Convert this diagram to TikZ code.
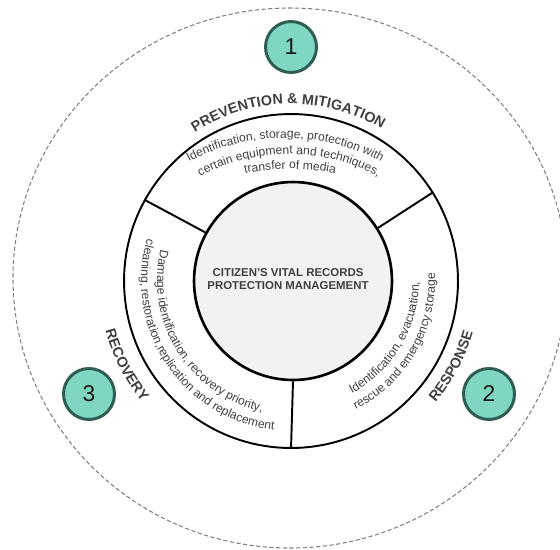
\documentclass[tikz,border=0pt]{standalone}
\usepackage{fontspec}
\setmainfont{Liberation Sans}
\usepackage{xcolor}
\usetikzlibrary{decorations.text}

\definecolor{mintfill}{HTML}{7FD6C2}
\definecolor{mintedge}{HTML}{2E5E53}
\definecolor{inkgray}{HTML}{404040}
\definecolor{coregray}{HTML}{F2F2F2}
\definecolor{dashgray}{HTML}{808080}

\newcommand{\phasefont}{\fontsize{8.2}{9}\selectfont\bfseries\color{inkgray}}
\newcommand{\notefont}{\fontsize{6.9}{8}\selectfont\color{inkgray}}

\begin{document}
\begin{tikzpicture}[x=0.02cm, y=0.02cm,
        ringshape/.style={circle, draw=black, line width=1.1pt, minimum size=6.68cm, inner sep=0pt},
        coreshape/.style={circle, draw=black, fill=coregray, line width=1.5pt, minimum size=3.96cm, inner sep=0pt},
        hubtext/.style={align=center, font=\fontsize{6.5}{7.4}\selectfont\bfseries, text=inkgray},
        badge/.style={circle, draw=mintedge, fill=mintfill, line width=1.7pt, minimum size=1.02cm, inner sep=0pt,
            font=\fontsize{13}{14}\selectfont, text=black!90},
        divider/.style={line width=1.1pt},
        phaselabel/.style={decorate, decoration={text along path, text align=center, text={|\phasefont|#1}}},
        notelabel/.style={decorate, decoration={text along path, text align=center, text={|\notefont|#1}}}]
        \useasboundingbox (0,0) rectangle (560,-549);
        \clip (0,0) rectangle (560,-549);

        \draw[dashgray, line width=0.6pt, dash pattern=on 2.4pt off 1.4pt] (290,-278) ellipse [x radius=277, y radius=270];

        \node[ringshape] (ring) at (291,-281) {};
        \node[coreshape] (core) at (293,-281) {};
        \node[hubtext] (hub) at (288,-279) {CITIZEN’S VITAL RECORDS\\PROTECTION MANAGEMENT};

        \draw[divider] (core.32) -- (ring.32);
        \draw[divider] (core.151) -- (ring.151);
        \draw[divider] (core.270) -- (ring.270);

        % phase titles
        \path[phaselabel={PREVENTION {\&} MITIGATION}] (ring.center) ++(151:177) arc[start angle=151, end angle=31, radius=177];
        \path[phaselabel={RESPONSE}] (ring.center) ++(-48:189) arc[start angle=-48, end angle=-8, radius=189];
        \path[phaselabel={RECOVERY}] (ring.center) ++(187:192) arc[start angle=187, end angle=227, radius=192];

        % phase notes
        \path[notelabel={Identification, storage, protection with}] (285,-344) ++(150:206) arc[start angle=150, end angle=30, radius=206];
        \path[notelabel={certain equipment and techniques,}] (289,-339) ++(150:185) arc[start angle=150, end angle=30, radius=185];
        \path[notelabel={transfer of media}] (290,-399) ++(130:230) arc[start angle=130, end angle=50, radius=230];

        \path[notelabel={Identification, evacuation,}] (ring.center) ++(-81:128) arc[start angle=-81, end angle=19, radius=128];
        \path[notelabel={rescue and emergency storage}] (ring.center) ++(-80:144) arc[start angle=-80, end angle=20, radius=144];

        \path[notelabel={Damage identification, recovery priority,}] (ring.center) ++(152:134) arc[start angle=152, end angle=272, radius=134];
        \path[notelabel={cleaning, restoration,replication and replacement}] (ring.center) ++(150:150) arc[start angle=150, end angle=277, radius=150];

        \node[badge] (b1) at (291,-47) {1};
        \node[badge] (b2) at (489,-394) {2};
        \node[badge] (b3) at (89,-394) {3};
\end{tikzpicture}
\end{document}
